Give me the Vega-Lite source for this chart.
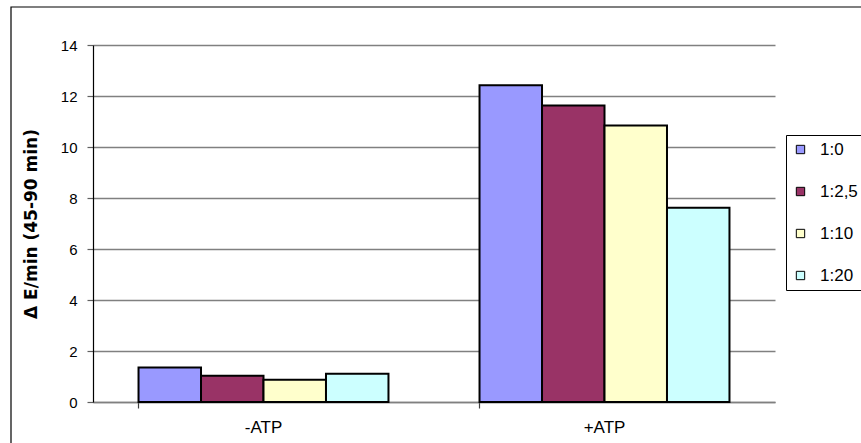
{
  "$schema": "https://vega.github.io/schema/vega-lite/v6.json",
  "width": 682,
  "height": 357,
  "autosize": "none",
  "padding": {"left": 93, "top": 45, "right": 86, "bottom": 41},
  "background": "white",
  "config": {
    "view": {"stroke": null},
    "font": "Liberation Sans"
  },
  "layer": [
    {
      "data": {"values": [{"frame": 1}]},
      "mark": {"type": "rect", "fill": null, "stroke": "black", "strokeWidth": 1.2, "clip": false},
      "encoding": {
        "x": {"value": -82},
        "x2": {"value": 900},
        "y": {"value": -38},
        "y2": {"value": 500}
      }
    },
    {
      "data": {
        "values": [
          {"condition": "-ATP", "ratio": "1:0", "value": 1.35},
          {"condition": "-ATP", "ratio": "1:2,5", "value": 1.03},
          {"condition": "-ATP", "ratio": "1:10", "value": 0.87},
          {"condition": "-ATP", "ratio": "1:20", "value": 1.11},
          {"condition": "+ATP", "ratio": "1:0", "value": 12.42},
          {"condition": "+ATP", "ratio": "1:2,5", "value": 11.63},
          {"condition": "+ATP", "ratio": "1:10", "value": 10.84},
          {"condition": "+ATP", "ratio": "1:20", "value": 7.62}
        ]
      },
      "mark": {"type": "bar", "stroke": "black", "strokeWidth": 2},
      "encoding": {
        "x": {
          "field": "condition",
          "type": "nominal",
          "sort": ["-ATP", "+ATP"],
          "scale": {"paddingInner": 0.267, "paddingOuter": 0.1335},
          "axis": {
            "title": null,
            "labelAngle": 0,
            "bandPosition": 0,
            "domainColor": "#808080",
            "domainWidth": 1.5,
            "tickColor": "#404040",
            "tickSize": 6,
            "tickWidth": 1.2,
            "labelFontSize": 17,
            "labelColor": "black",
            "labelPadding": 11,
            "grid": false
          }
        },
        "xOffset": {
          "field": "ratio",
          "type": "nominal",
          "sort": ["1:0", "1:2,5", "1:10", "1:20"],
          "scale": {"paddingInner": 0, "paddingOuter": 0}
        },
        "y": {
          "field": "value",
          "type": "quantitative",
          "scale": {"domain": [0, 14], "nice": false},
          "axis": {
            "title": "Δ E/min (45-90 min)",
            "titleFont": "DejaVu Sans",
            "titleFontWeight": "bold",
            "titleFontSize": 17,
            "titleColor": "black",
            "titlePadding": 20,
            "values": [0, 2, 4, 6, 8, 10, 12, 14],
            "domainColor": "black",
            "domainWidth": 1.2,
            "tickColor": "#606060",
            "tickSize": 6,
            "tickWidth": 1.2,
            "labelFontSize": 15,
            "labelColor": "black",
            "labelPadding": 10,
            "grid": true,
            "gridColor": "#808080",
            "gridWidth": 1.5
          }
        },
        "fill": {
          "field": "ratio",
          "type": "nominal",
          "sort": ["1:0", "1:2,5", "1:10", "1:20"],
          "scale": {
            "domain": ["1:0", "1:2,5", "1:10", "1:20"],
            "range": ["#9999FF", "#993366", "#FFFFCC", "#CCFFFF"]
          },
          "legend": {
            "title": null,
            "orient": "none",
            "legendX": 693,
            "legendY": 90,
            "strokeColor": "black",
            "fillColor": "white",
            "padding": 6,
            "rowPadding": 24,
            "symbolType": "square",
            "symbolSize": 70,
            "symbolStrokeColor": "black",
            "symbolStrokeWidth": 1,
            "labelFontSize": 17,
            "labelColor": "black",
            "labelOffset": 11
          }
        }
      }
    }
  ]
}
